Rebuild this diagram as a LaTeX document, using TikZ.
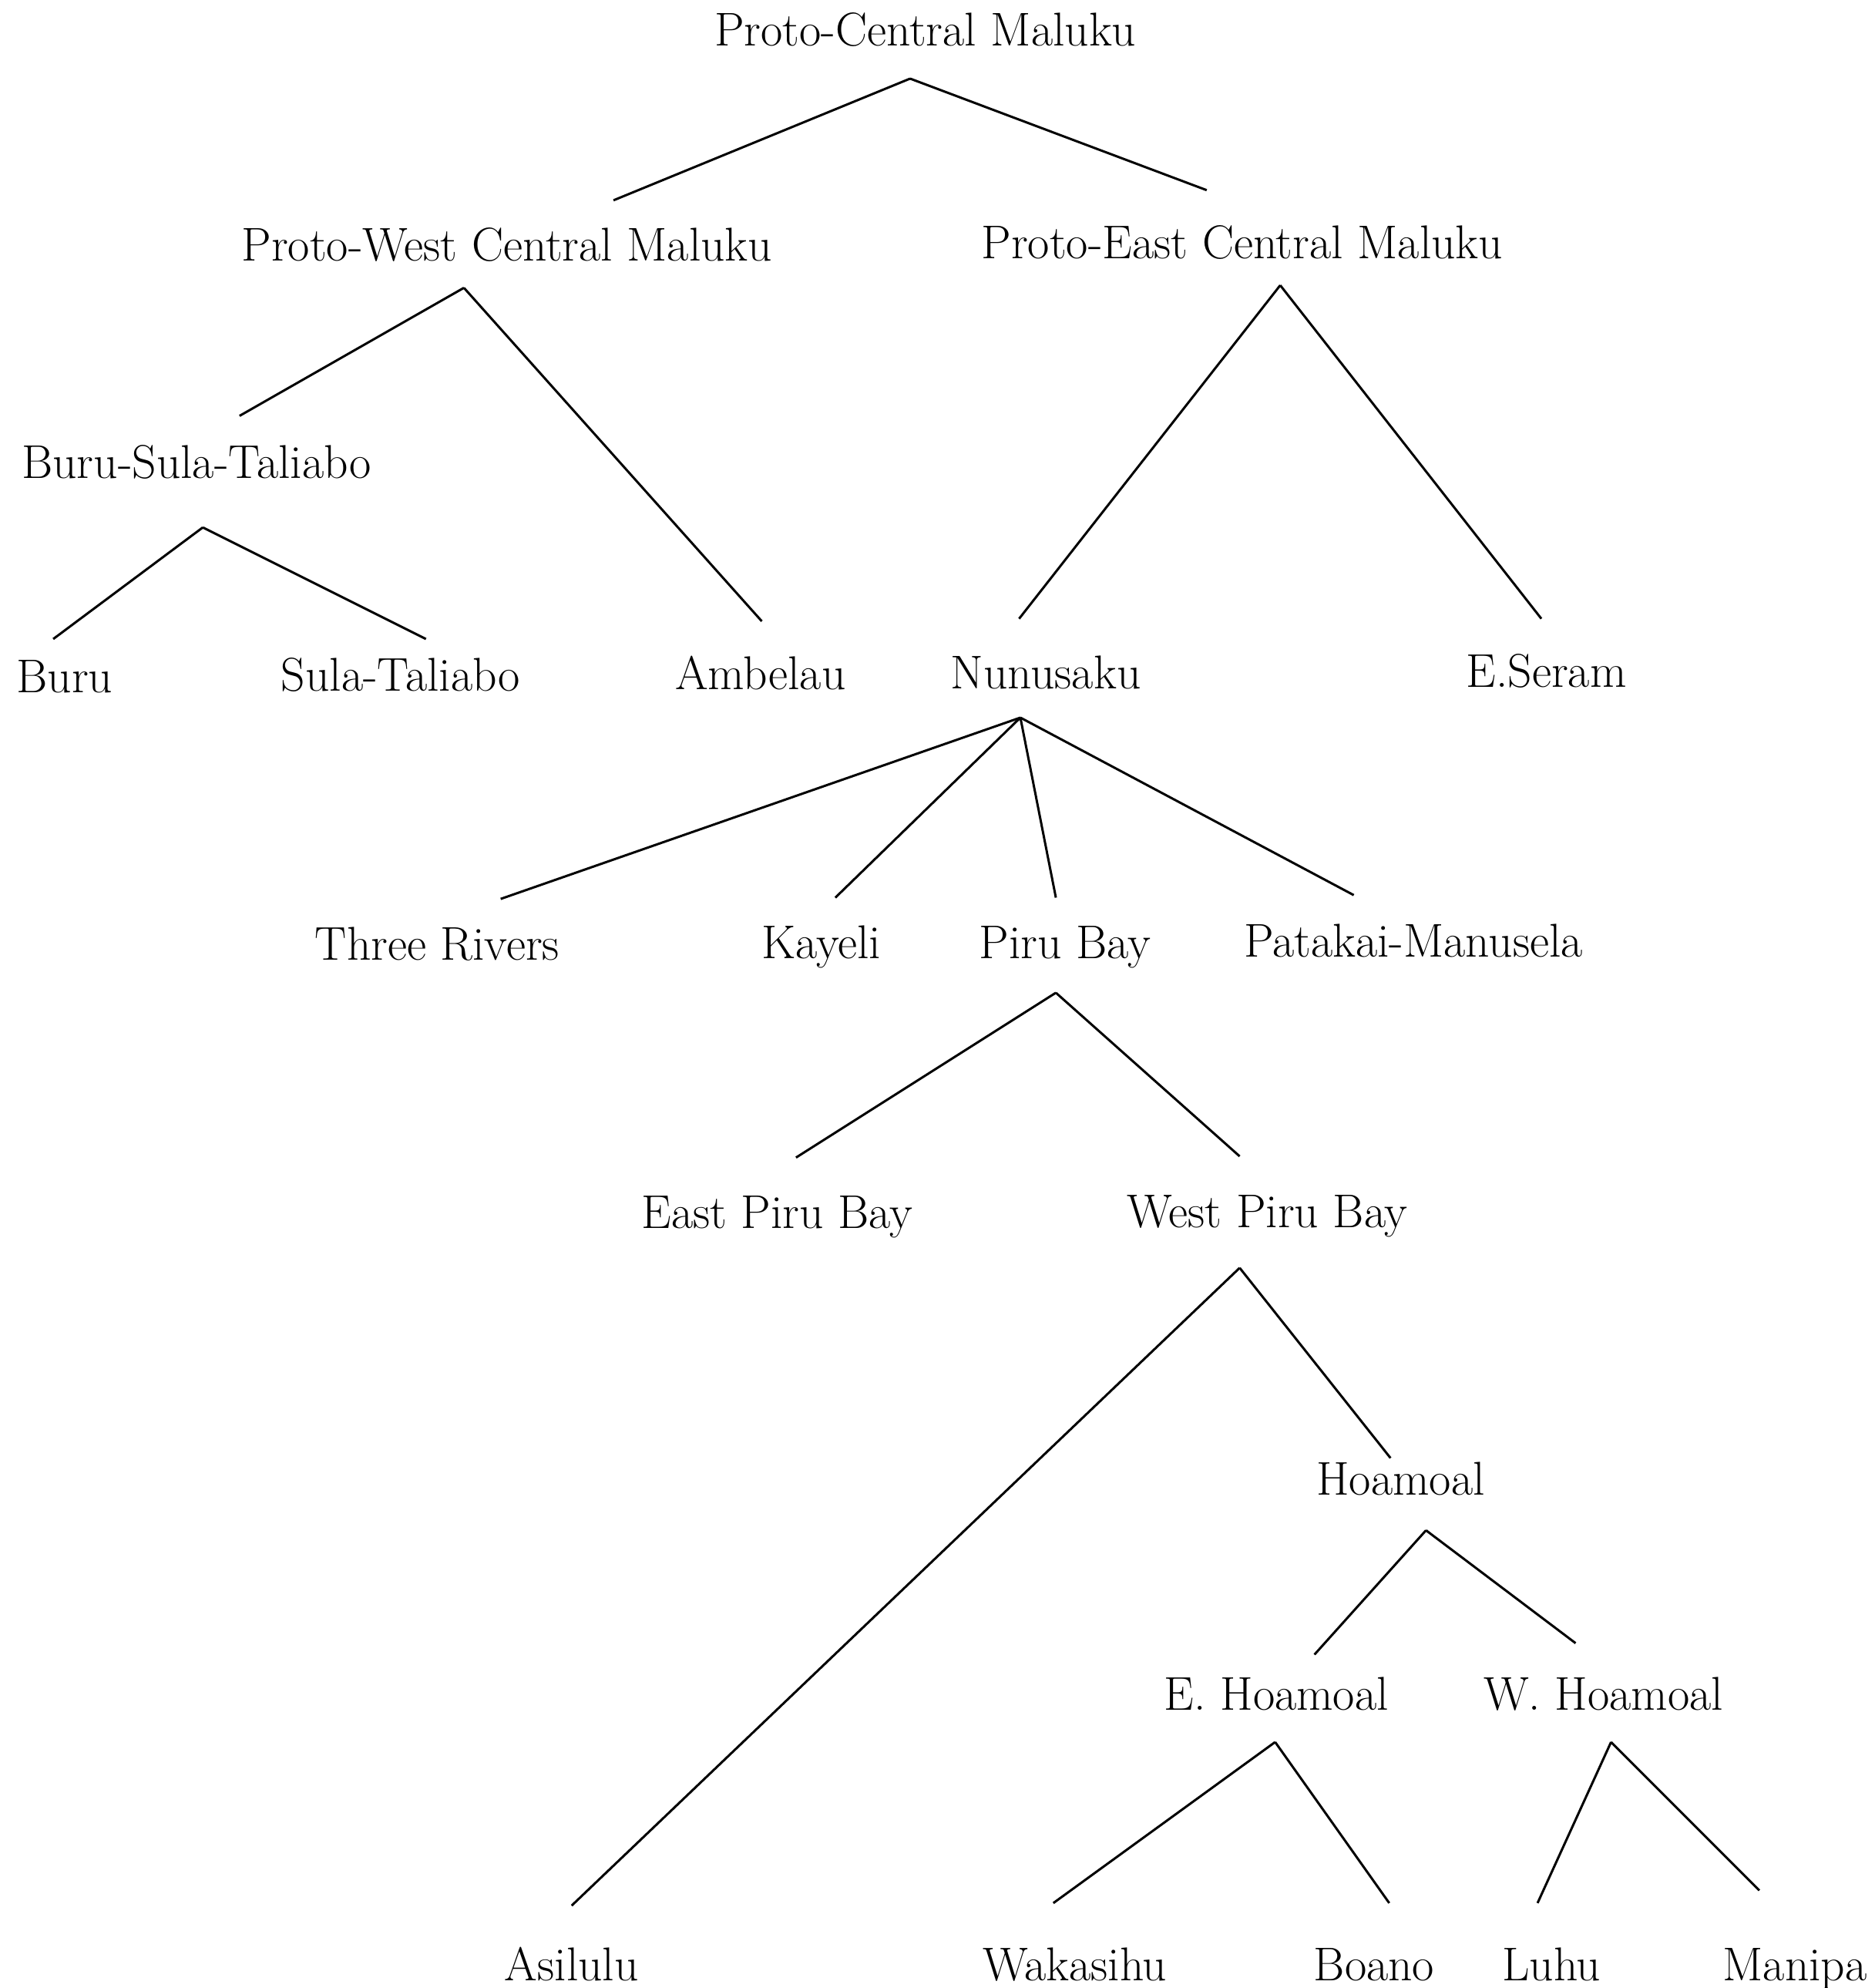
\documentclass[tikz,border=0pt]{standalone}
\usepackage{tikz}
\tikzstyle{lang} = [anchor=base, inner sep=0pt, font=\fontsize{17.5}{21}\selectfont]
\tikzstyle{line} = [draw, line width=0.85pt]
\begin{document}
\begin{tikzpicture}[x=0.01645cm, y=-0.01645cm]
	\useasboundingbox (0,0) rectangle (1479,1568);
	% language names
	\node [lang] (pcm) at (730,36) {Proto-Central Maluku};
	\node [lang] (pwcm) at (400,206) {Proto-West Central Maluku};
	\node [lang] (pecm) at (980,204) {Proto-East Central Maluku};
	\node [lang] (bst) at (155,377) {Buru-Sula-Taliabo};
	\node [lang] (buru) at (51,546) {Buru};
	\node [lang] (sulatal) at (316,545) {Sula-Taliabo};
	\node [lang] (ambelau) at (600,544) {Ambelau};
	\node [lang] (nunusaku) at (825,543) {Nunusaku};
	\node [lang] (eseram) at (1220,542) {E.Seram};
	\node [lang] (threeriv) at (345,757) {Three Rivers};
	\node [lang] (kayeli) at (648,756) {Kayeli};
	\node [lang] (pirubay) at (840,756) {Piru Bay};
	\node [lang] (patakai) at (1115,755) {Patakai-Manusela};
	\node [lang] (epiru) at (613,969) {East Piru Bay};
	\node [lang] (wpiru) at (1000,968) {West Piru Bay};
	\node [lang] (hoamoal) at (1105,1179) {Hoamoal};
	\node [lang] (ehoa) at (1007,1349) {E. Hoamoal};
	\node [lang] (whoa) at (1265,1349) {W. Hoamoal};
	\node [lang] (asilulu) at (451,1562) {Asilulu};
	\node [lang] (wakasihu) at (848,1562) {Wakasihu};
	\node [lang] (boano) at (1084,1562) {Boano};
	\node [lang] (luhu) at (1224,1562) {Luhu};
	\node [lang] (manipa) at (1416,1562) {Manipa};

	% branch points
	\coordinate (pcm-b) at (718,62);
	\coordinate (pwcm-t) at (484,158);
	\coordinate (pecm-t) at (952,150);
	\coordinate (pwcm-b) at (366,227);
	\coordinate (pecm-b) at (1010,225);
	\coordinate (bst-t) at (189,328);
	\coordinate (ambelau-t) at (601,490);
	\coordinate (nunusaku-t) at (804,488);
	\coordinate (eseram-t) at (1216,488);
	\coordinate (bst-b) at (160,416);
	\coordinate (buru-t) at (42,504);
	\coordinate (sulatal-t) at (336,504);
	\coordinate (nunusaku-b) at (805,566);
	\coordinate (threeriv-t) at (395,709);
	\coordinate (kayeli-t) at (659,708);
	\coordinate (pirubay-t) at (833,708);
	\coordinate (patakai-t) at (1068,706);
	\coordinate (pirubay-b) at (833,783);
	\coordinate (epiru-t) at (628,913);
	\coordinate (wpiru-t) at (978,912);
	\coordinate (wpiru-b) at (978,1000);
	\coordinate (asilulu-t) at (451,1503);
	\coordinate (hoamoal-t) at (1097,1150);
	\coordinate (hoamoal-b) at (1125,1207);
	\coordinate (ehoa-t) at (1037,1305);
	\coordinate (whoa-t) at (1243,1296);
	\coordinate (ehoa-b) at (1006,1374);
	\coordinate (whoa-b) at (1271,1374);
	\coordinate (wakasihu-t) at (831,1501);
	\coordinate (boano-t) at (1096,1501);
	\coordinate (luhu-t) at (1213,1501);
	\coordinate (manipa-t) at (1388,1491);

	\path [line] (pcm-b) -- (pwcm-t);
	\path [line] (pcm-b) -- (pecm-t);
	\path [line] (pwcm-b) -- (bst-t);
	\path [line] (pwcm-b) -- (ambelau-t);
	\path [line] (pecm-b) -- (nunusaku-t);
	\path [line] (pecm-b) -- (eseram-t);
	\path [line] (bst-b) -- (buru-t);
	\path [line] (bst-b) -- (sulatal-t);
	\path [line] (nunusaku-b) -- (threeriv-t);
	\path [line] (nunusaku-b) -- (kayeli-t);
	\path [line] (nunusaku-b) -- (pirubay-t);
	\path [line] (nunusaku-b) -- (patakai-t);
	\path [line] (pirubay-b) -- (epiru-t);
	\path [line] (pirubay-b) -- (wpiru-t);
	\path [line] (wpiru-b) -- (asilulu-t);
	\path [line] (wpiru-b) -- (hoamoal-t);
	\path [line] (hoamoal-b) -- (ehoa-t);
	\path [line] (hoamoal-b) -- (whoa-t);
	\path [line] (ehoa-b) -- (wakasihu-t);
	\path [line] (ehoa-b) -- (boano-t);
	\path [line] (whoa-b) -- (luhu-t);
	\path [line] (whoa-b) -- (manipa-t);
\end{tikzpicture}
\end{document}
